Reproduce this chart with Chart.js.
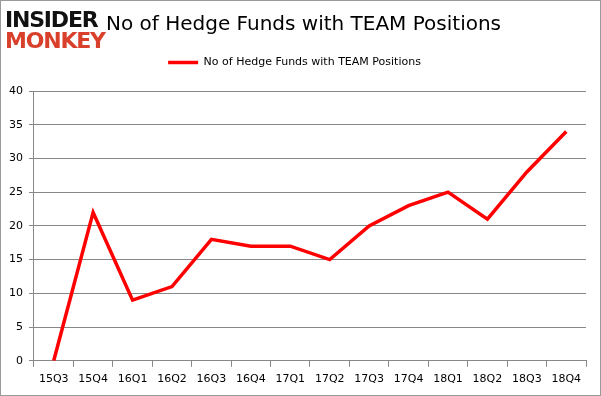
<!DOCTYPE html>
<html>
<head>
<meta charset="utf-8">
<script src="https://cdn.jsdelivr.net/npm/chart.js@4"></script>
<style>
  html, body { margin: 0; padding: 0; background: #fff; }
  #wrap { position: relative; width: 599px; height: 394px; border: 1px solid #999; }
  #logo { position: absolute; left: 4px; top: 8px; font-family: "DejaVu Sans", sans-serif; font-weight: bold; line-height: 21px; font-size: 22px; letter-spacing: -1.2px; }
  #logo .a { color: #111; }
  #logo .b { color: #d9402b; }
</style>
</head>
<body>
<div id="wrap">
  <canvas id="grafico" width="599" height="394"></canvas>
  <div id="logo"><div class="a">INSIDER</div><div class="b">MONKEY</div></div>
</div>
<script>
// Fundos por trimestre
const trimestres = ['15Q3','15Q4','16Q1','16Q2','16Q3','16Q4','17Q1','17Q2','17Q3','17Q4','18Q1','18Q2','18Q3','18Q4'];
const fundos     = [0, 22, 9, 11, 18, 17, 17, 15, 20, 23, 25, 21, 28, 34];

const cinza = '#888888';

// legenda mais alta (desce a área do gráfico) e título um pouco à direita do logo
const ajustes = {
  id: 'ajustes',
  beforeInit(chart) {
    const fit = chart.legend.fit;
    chart.legend.fit = function () { fit.call(this); this.height += 13; };
  },
  afterLayout(chart) {
    if (chart.titleBlock) chart.titleBlock.left += 18;
  }
};

new Chart(document.getElementById('grafico'), {
  type: 'line',
  data: {
    labels: trimestres,
    datasets: [{
      label: 'No of Hedge Funds with TEAM Positions',
      data: fundos,
      borderColor: '#ff0000',
      backgroundColor: '#ff0000',
      borderWidth: 3.5,
      pointRadius: 0,
      tension: 0,
      fill: false
    }]
  },
  plugins: [ajustes],
  options: {
    responsive: false,
    animation: false,
    layout: { padding: { left: 2, right: 14, top: 6, bottom: 3 } },
    plugins: {
      title: {
        display: true,
        text: 'No of Hedge Funds with TEAM Positions',
        color: '#000',
        font: { family: 'DejaVu Sans', size: 20, weight: 'normal' },
        padding: { top: 6, bottom: 0 }
      },
      legend: {
        labels: {
          usePointStyle: true,
          pointStyle: 'line',
          pointStyleWidth: 30,
          color: '#000',
          font: { family: 'DejaVu Sans', size: 11 },
          padding: 20
        }
      },
      tooltip: { enabled: false }
    },
    scales: {
      x: {
        offset: true,
        grid: { offset: true, drawOnChartArea: false, color: cinza, tickLength: 6 },
        border: { color: cinza },
        ticks: { color: '#000', font: { family: 'DejaVu Sans', size: 11 }, maxRotation: 0, padding: 6 }
      },
      y: {
        min: 0, max: 40,
        grid: { color: cinza, tickLength: 5 },
        border: { color: cinza },
        ticks: { stepSize: 5, color: '#000', font: { family: 'DejaVu Sans', size: 11 }, padding: 6 }
      }
    }
  }
});
</script>
</body>
</html>
